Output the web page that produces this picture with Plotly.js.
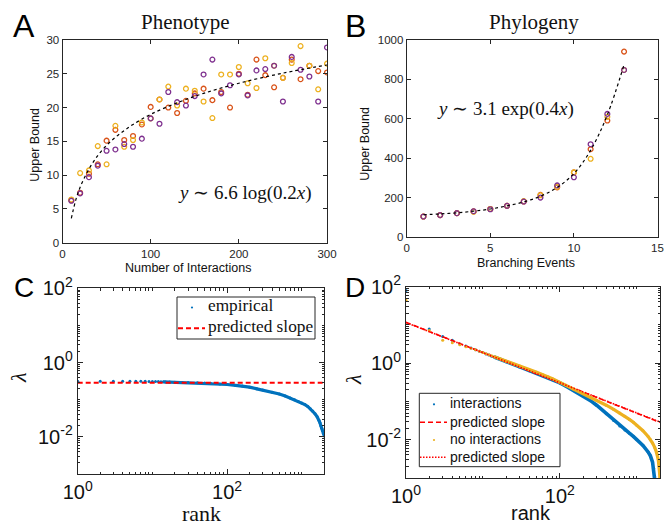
<!DOCTYPE html>
<html><head><meta charset="utf-8">
<script src="https://cdn.plot.ly/plotly-3.0.1.min.js"></script>
<style>html,body{margin:0;padding:0;background:#fff}#chart{width:668px;height:525px}</style>
</head><body><div id="chart"></div>
<script>
// ---------- Panel A: Phenotype ----------
const phenoX = [10,20,30,40,50,60,70,80,90,100,110,120,130,140,150,160,170,180,190,200,210,220,230,240,250,260,270,280,290,300];
const phenoOrange = [6.3,7.4,10.2,11.6,15.1,16.7,15.2,15.8,17.5,20.1,21.2,20.0,19.2,21.0,22.1,22.8,21.1,22.3,20.0,25.0,21.9,27.1,24.8,23.0,24.4,27.1,24.2,26.2,25.4,25.2];
const phenoYellow = [6.4,10.3,10.7,14.3,11.6,17.3,14.2,15.2,17.8,18.4,21.2,23.1,20.3,22.8,22.5,20.9,18.45,24.9,24.9,26.0,23.6,22.9,27.3,26.2,24.4,26.6,29.1,26.2,22.7,26.5];
const phenoPurple = [6.2,7.3,9.7,11.4,13.6,13.8,14.6,14.2,15.4,18.4,17.6,22.3,20.8,20.3,21.7,24.9,27.1,22.1,23.3,24.9,21.8,25.5,25.7,26.2,20.9,27.5,25.6,24.6,20.9,28.9];
const phenoFitX = [10,15,20,30,40,50,60,70,80,100,130,160,200,250,300];
const phenoFitY = [3.6,6.3,8.2,10.9,12.9,14.4,15.6,16.6,17.5,19.0,20.7,22.1,23.6,25.1,26.3];

// ---------- Panel B: Phylogeny ----------
const phyloX = [1,2,3,4,5,6,7,8,9,10,11,12,13];
const phyloOrange = [104,111,121,130,142,158,180,214,252,328,446,591,941];
const phyloYellow = [104,111,121,128,142,158,182,212,255,328,397,610,848];
const phyloPurple = [104,111,121,131,141,158,180,200,262,303,471,625,848];
const phyloFitY = [113,117,123,131,142,158,178,207,252,322,440,620,875];

// ---------- Panel C ----------
const cRank = [1,2,3,4,5,6,7,8,9,10,11,12,13,14,15,17,20,25,30,40,50,60,80,100,130,160,200,250,300,400,500,600,700,800,900,1000,1100,1200,1300,1400,1500,1600,1700,1750,1800,1850,1900,1950,2000];
const cEmpirical = [0.315,0.315,0.315,0.314,0.314,0.313,0.313,0.312,0.311,0.31,0.309,0.308,0.306,0.304,0.302,0.299,0.296,0.293,0.29,0.286,0.282,0.277,0.266,0.257,0.243,0.233,0.218,0.196,0.182,0.16,0.143,0.126,0.111,0.10,0.09,0.082,0.074,0.066,0.057,0.05,0.042,0.035,0.028,0.024,0.02,0.017,0.0145,0.0125,0.0105];
const cSlopeX = [1,2000];
const cSlopeY = [0.285,0.285];

// ---------- Panel D ----------
const dRankInter = [1,2,3,4,5,6,7,8,9,10,11,12,13,14,15,17,20,25,30,40,50,60,70,80,100,120,150,200,250,300,400,500,600,700,800,900,1000,1200,1400,1500,1600,1650,1700,1750];
const dInter = [80,7.8,5.0,4.0,3.2,2.8,2.5,2.25,2.05,1.9,1.75,1.63,1.53,1.45,1.38,1.25,1.1,0.92,0.8,0.64,0.54,0.47,0.42,0.375,0.305,0.25,0.195,0.14,0.105,0.08,0.048,0.032,0.023,0.018,0.0148,0.0122,0.0102,0.0071,0.0048,0.0038,0.0026,0.0018,0.0011,0.0006];
const dRankNoInter = [1,2,3,4,5,6,7,8,9,10,11,12,13,14,15,17,20,25,30,40,50,60,70,80,100,120,150,200,250,300,400,500,600,700,800,900,1000,1200,1400,1500,1600,1700,1800,1900,1950,1980,2000];
const dNoInter = [44,7.2,4.0,3.45,3.05,2.7,2.45,2.25,2.07,1.92,1.78,1.66,1.56,1.48,1.41,1.28,1.13,0.96,0.84,0.68,0.58,0.5,0.445,0.395,0.315,0.265,0.213,0.162,0.13,0.108,0.08,0.062,0.05,0.041,0.034,0.0285,0.024,0.0172,0.0122,0.0101,0.0082,0.0064,0.0047,0.003,0.0021,0.0013,0.0008];
const dSlopeX = [1,2000];
const dSlopeInter = [11.7,0.0285];
const dSlopeNoInter = [11.6,0.029];

// legend labels
const cLegend = ['empirical', 'predicted slope'];
const dLegend = ['interactions', 'predicted slope', 'no interactions', 'predicted slope'];

// ---------- styling ----------
const W = 668, H = 525;
const px = v => v / W, py = v => 1 - v / H;
const SANS = 'Liberation Sans, Arial, sans-serif';
const SERIF = 'Liberation Serif, Times New Roman, serif';
const AX = '#262626';
const cOrange = '#D95319', cYellow = '#EDB120', cPurple = '#7E2F8E', cBlue = '#0072BD', cRed = '#FF0000';
const DENSE_FROM = 14;

function openPts(x, y, color, xa, ya) {
  return {x, y, xaxis: xa, yaxis: ya, type: 'scatter', mode: 'markers', hoverinfo: 'skip',
    marker: {symbol: 'circle-open', size: 4.8, color, line: {width: 1.3, color}}};
}
function fitLine(x, y, xa, ya) {
  return {x, y, xaxis: xa, yaxis: ya, type: 'scatter', mode: 'lines', hoverinfo: 'skip',
    line: {color: '#000', width: 1.2, dash: '3px,3px', shape: 'spline'}};
}
function denseLine(r, v, color, width, xa, ya) {
  const rr = [], vv = [];
  r.forEach((k, i) => { if (k >= DENSE_FROM) { rr.push(k); vv.push(v[i]); } });
  return {x: rr, y: vv, xaxis: xa, yaxis: ya, type: 'scatter', mode: 'lines', hoverinfo: 'skip',
    line: {color, width}};
}
function dots(r, v, color, xa, ya) {
  return {x: r, y: v, xaxis: xa, yaxis: ya, type: 'scatter', mode: 'markers', hoverinfo: 'skip',
    marker: {color, size: 3}};
}
function straight(x, y, color, width, dash, xa, ya) {
  return {x, y, xaxis: xa, yaxis: ya, type: 'scatter', mode: 'lines', hoverinfo: 'skip',
    line: {color, width, dash}};
}

const traces = [
  openPts(phenoX, phenoOrange, cOrange, 'x', 'y'),
  openPts(phenoX, phenoYellow, cYellow, 'x', 'y'),
  openPts(phenoX, phenoPurple, cPurple, 'x', 'y'),
  fitLine(phenoFitX, phenoFitY, 'x', 'y'),
  openPts(phyloX, phyloOrange, cOrange, 'x2', 'y2'),
  openPts(phyloX, phyloYellow, cYellow, 'x2', 'y2'),
  openPts(phyloX, phyloPurple, cPurple, 'x2', 'y2'),
  fitLine(phyloX, phyloFitY, 'x2', 'y2'),
  denseLine(cRank, cEmpirical, cBlue, 3.2, 'x3', 'y3'),
  dots(cRank, cEmpirical, cBlue, 'x3', 'y3'),
  straight(cSlopeX, cSlopeY, cRed, 2, '5px,3px', 'x3', 'y3'),
  denseLine(dRankInter, dInter, cBlue, 3.6, 'x4', 'y4'),
  dots(dRankInter, dInter, cBlue, 'x4', 'y4'),
  straight(dSlopeX, dSlopeInter, cRed, 1.6, '5px,3px', 'x4', 'y4'),
  denseLine(dRankNoInter, dNoInter, cYellow, 3.2, 'x4', 'y4'),
  dots(dRankNoInter, dNoInter, cYellow, 'x4', 'y4'),
  straight(dSlopeX, dSlopeNoInter, cRed, 1.6, '1.5px,1.5px', 'x4', 'y4')
];

function linAxis(dom, range, dtick, extra) {
  return Object.assign({domain: dom, range, dtick, tick0: 0, showgrid: false, zeroline: false,
    showline: true, linecolor: AX, linewidth: 1, mirror: 'ticks', ticks: 'inside', ticklen: 4,
    tickcolor: AX, tickfont: {family: SANS, size: 11.5, color: AX}}, extra || {});
}
const sup = e => '10<sup>' + e + '</sup>';
function logAxis(dom, range, vals, text, extra) {
  return Object.assign({domain: dom, type: 'log', range, showgrid: false, zeroline: false,
    showline: true, linecolor: AX, linewidth: 1, mirror: 'ticks', ticks: 'inside', ticklen: 5,
    tickcolor: AX, tickmode: 'array', tickvals: vals, ticktext: text,
    tickfont: {family: SANS, size: 20, color: '#111'},
    minor: {ticks: 'inside', ticklen: 2.5, dtick: 'D1', tickcolor: AX, showgrid: false}}, extra || {});
}

const xMaxLog = Math.log10(2000);
const layout = {
  width: W, height: H, margin: {l: 0, r: 0, t: 0, b: 0},
  paper_bgcolor: '#fff', plot_bgcolor: '#fff', showlegend: false,
  xaxis: linAxis([px(62.5), px(327)], [0, 300], 100, {anchor: 'y'}),
  yaxis: linAxis([py(242.7), py(40)], [0, 30], 5, {anchor: 'x'}),
  xaxis2: linAxis([px(406.7), px(657.5)], [0, 15], 5, {anchor: 'y2'}),
  yaxis2: linAxis([py(237), py(40)], [0, 1000], 200, {anchor: 'x2'}),
  xaxis3: logAxis([px(77.7), px(324.3)], [0, xMaxLog], [1, 100], [sup(0), sup(2)], {anchor: 'y3'}),
  yaxis3: logAxis([py(474), py(288.3)], [-3, 2], [0.01, 1, 100], [sup('-2'), sup(0), sup(2)], {anchor: 'x3'}),
  xaxis4: logAxis([px(406), px(660)], [0, xMaxLog], [1, 100], [sup(0), sup(2)], {anchor: 'y4'}),
  yaxis4: logAxis([py(478), py(286.7)], [-3, 2], [0.01, 1, 100], [sup('-2'), sup(0), sup(2)], {anchor: 'x4'}),
  annotations: [], shapes: []
};

function ann(text, x, y, font, extra) {
  layout.annotations.push(Object.assign({text, x: px(x), y: py(y), xref: 'paper', yref: 'paper',
    xanchor: 'center', yanchor: 'middle', showarrow: false, font}, extra || {}));
}
function box(x0, y0, x1, y1) {
  layout.shapes.push({type: 'rect', xref: 'paper', yref: 'paper', x0: px(x0), x1: px(x1), y0: py(y1), y1: py(y0),
    line: {color: AX, width: 1}, fillcolor: '#fff', layer: 'above'});
}
function seg(x0, x1, y, color, width, dash) {
  layout.shapes.push({type: 'line', xref: 'paper', yref: 'paper', x0: px(x0), x1: px(x1), y0: py(y), y1: py(y),
    line: {color, width, dash}, layer: 'above'});
}
function dot(x, y, color, r) {
  layout.shapes.push({type: 'circle', xref: 'paper', yref: 'paper', x0: px(x - r), x1: px(x + r), y0: py(y + r), y1: py(y - r),
    line: {width: 0}, fillcolor: color, layer: 'above'});
}

// panel labels & titles
const big = {family: SANS, size: 32, color: '#000'};
ann('A', 23.5, 26.5, big);
ann('B', 355, 26.5, big);
ann('C', 24, 287, {family: SANS, size: 28, color: '#000'});
ann('D', 355, 287, {family: SANS, size: 28, color: '#000'});
ann('Phenotype', 186, 21.5, {family: SERIF, size: 21, color: '#111'});
ann('Phylogeny', 534, 22, {family: SERIF, size: 21, color: '#111'});
ann('<i>y</i> ∼ 6.6 log(0.2<i>x</i>)', 245, 192.6, {family: SERIF, size: 19, color: '#111'});
ann('<i>y</i> ∼ 3.1 exp(0.4<i>x</i>)', 505, 108.5, {family: SERIF, size: 19, color: '#111'});
ann('Number of Interactions', 188, 268.4, {family: SANS, size: 12.5, color: '#111'});
ann('Upper Bound', 34.7, 145, {family: SANS, size: 12.5, color: '#111'}, {textangle: -90});
ann('Branching Events', 526, 263.4, {family: SANS, size: 12.5, color: '#111'});
ann('Upper Bound', 364.7, 144, {family: SANS, size: 12.5, color: '#111'}, {textangle: -90});
ann('rank', 201, 513.5, {family: SERIF, size: 22, color: '#111'});
ann('rank', 531, 512.5, {family: SANS, size: 20, color: '#111'});
ann('<i>λ</i>', 18, 378, {family: SERIF, size: 22, color: '#111'}, {textangle: -90});
ann('<i>λ</i>', 353, 380, {family: SERIF, size: 22, color: '#111'}, {textangle: -90});

// legend C (drawn by hand for exact placement)
box(177, 297, 315, 339);
dot(192, 307.5, cBlue, 1.1);
seg(178, 205, 328.3, cRed, 2, '5px,3px');
const cFont = {family: SERIF, size: 17.3, color: '#111'};
ann(cLegend[0], 205.5, 305.8, cFont, {xanchor: 'left'});
ann(cLegend[1], 205.5, 326.8, cFont, {xanchor: 'left'});

// legend D
box(419.3, 393.3, 560, 466.7);
dot(434, 404.3, cBlue, 1.1);
seg(420, 447, 422.3, cRed, 1.6, '5px,3px');
dot(434, 440, cYellow, 1.1);
seg(420, 447, 457.3, cRed, 1.6, '1.5px,1.5px');
const dFont = {family: SANS, size: 14, color: '#111'};
ann(dLegend[0], 447.5, 403.3, dFont, {xanchor: 'left'});
ann(dLegend[1], 447.5, 421.5, dFont, {xanchor: 'left'});
ann(dLegend[2], 447.5, 439.0, dFont, {xanchor: 'left'});
ann(dLegend[3], 447.5, 456.6, dFont, {xanchor: 'left'});

Plotly.newPlot('chart', traces, layout, {staticPlot: true, displayModeBar: false});
</script>
</body></html>
